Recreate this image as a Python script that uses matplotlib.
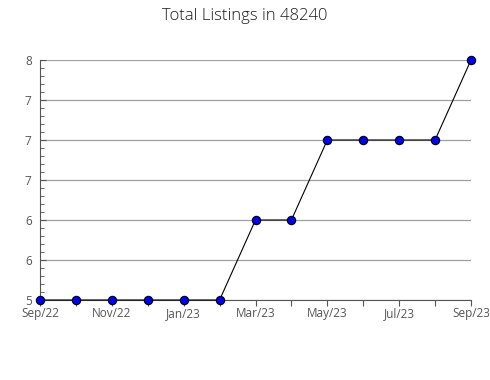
import matplotlib
matplotlib.use("Agg")
import matplotlib.pyplot as plt
import numpy as np

months = ['Sep/22', 'Oct/22', 'Nov/22', 'Dec/22', 'Jan/23', 'Feb/23', 'Mar/23',
          'Apr/23', 'May/23', 'Jun/23', 'Jul/23', 'Aug/23', 'Sep/23']
listings = [5, 5, 5, 5, 5, 5, 6, 6, 7, 7, 7, 7, 8]
y_ticks = [5, 5.5, 6, 6.5, 7, 7.5, 8]
y_labels = ['5', '6', '6', '7', '7', '7', '8']

plt.rcParams['font.family'] = ['Open Sans', 'DejaVu Sans']

fig = plt.figure(figsize=(4.9, 3.8), dpi=100)
ax = fig.add_axes([40 / 490, 80 / 380, 431 / 490, 240 / 380])

x = np.arange(len(months))
ax.plot(x, listings, color='black', linewidth=0.8, marker='o', markersize=6,
        markerfacecolor='#0000ee', markeredgecolor='black', markeredgewidth=0.8,
        zorder=3, clip_on=False)

ax.set_xlim(0, len(months) - 1)
ax.set_ylim(5, 8)

ax.set_xticks(x)
ax.set_xticklabels([m if i % 2 == 0 else '' for i, m in enumerate(months)])
ax.set_yticks(y_ticks)
ax.set_yticklabels(y_labels)
ax.set_yticks(np.arange(5, 8.01, 0.1), minor=True)

ax.grid(axis='y', color='#a0a0a0', linewidth=0.9)
ax.set_axisbelow(True)

for s in ['top', 'right']:
    ax.spines[s].set_visible(False)
ax.spines['left'].set_color('#555555')
ax.spines['bottom'].set_color('#555555')

ax.tick_params(axis='x', direction='out', length=4, color='#555555',
               labelsize=8.5, labelcolor='#555555', pad=1)
ax.tick_params(axis='y', which='major', direction='in', length=4, color='#555555',
               labelsize=8.5, labelcolor='#555555', pad=6)
ax.tick_params(axis='y', which='minor', direction='in', length=3, color='#555555')

fig.suptitle('Total Listings in 48240', y=0.98, fontsize=12, color='#1a1a1a',
             fontweight='light')

fig.savefig('out.png', dpi=100)
